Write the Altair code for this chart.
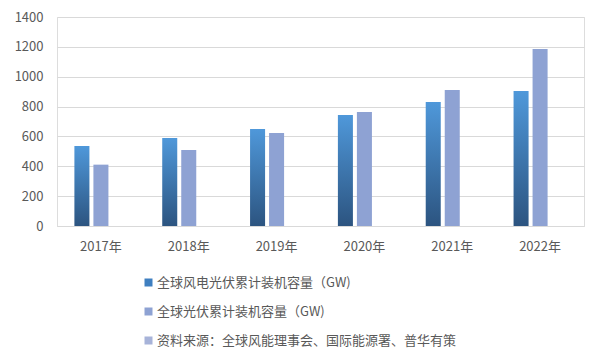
import altair as alt
import pandas as pd

years = ["2017年", "2018年", "2019年", "2020年", "2021年", "2022年"]
series_names = [
    "全球风电光伏累计装机容量（GW)",
    "全球光伏累计装机容量（GW)",
    "资料来源：全球风能理事会、国际能源署、普华有策",
]
wind_solar = [536, 590, 650, 744, 831, 904]
solar = [411, 509, 623, 764, 911, 1186]
source_dummy = [0, 0, 0, 0, 0, 0]

rows = []
for i, y in enumerate(years):
    for s, vals in zip(series_names, [wind_solar, solar, source_dummy]):
        rows.append({"year": y, "series": s, "value": vals[i]})
df = pd.DataFrame(rows)

FONT = "Noto Sans CJK SC"
TXT = "#595959"

gradient = {
    "gradient": "linear",
    "x1": 0, "y1": 0, "x2": 0, "y2": 1,
    "stops": [
        {"offset": 0, "color": "#4f98da"},
        {"offset": 1, "color": "#2c5480"},
    ],
}

color_scale = alt.Scale(domain=series_names, range=["#3f7fc0", "#8ea2d3", "#a7b3d9"])

chart = alt.Chart(df).mark_bar().encode(
    x=alt.X("year:N", sort=years, title=None,
            scale=alt.Scale(paddingInner=0, paddingOuter=0),
            axis=alt.Axis(labelAngle=0, ticks=False, domain=True, domainColor="#d9d9d9",
                          labelPadding=14, labelFontSize=13, labelColor=TXT, labelFont=FONT)),
    xOffset=alt.XOffset("series:N", sort=series_names,
                        scale=alt.Scale(paddingInner=0.21, paddingOuter=0.915)),
    y=alt.Y("value:Q", title=None,
            scale=alt.Scale(domain=[0, 1400]),
            axis=alt.Axis(values=[0, 200, 400, 600, 800, 1000, 1200, 1400], format="d",
                          ticks=False, domain=False,
                          gridColor="#d9d9d9", labelPadding=14, labelFontSize=13,
                          labelColor=TXT, labelFont=FONT)),
    color=alt.condition(
        alt.datum.series == series_names[0],
        alt.value(gradient),
        alt.Color("series:N", sort=series_names, scale=color_scale,
                  legend=alt.Legend(title=None, orient="none", legendX=85, legendY=259,
                                    direction="vertical", symbolType="square", symbolSize=64,
                                    symbolStrokeWidth=0, rowPadding=15, labelFontSize=13,
                                    labelColor=TXT, labelFont=FONT, padding=0, labelOffset=2,
                                    labelLimit=500)),
    ),
).properties(
    width=527, height=209,
    padding={"left": 6, "top": 3, "right": 2, "bottom": 4},
).configure_view(stroke=None).configure(background="white")

chart.save("out.html", embed_options={"renderer": "svg", "actions": False})
